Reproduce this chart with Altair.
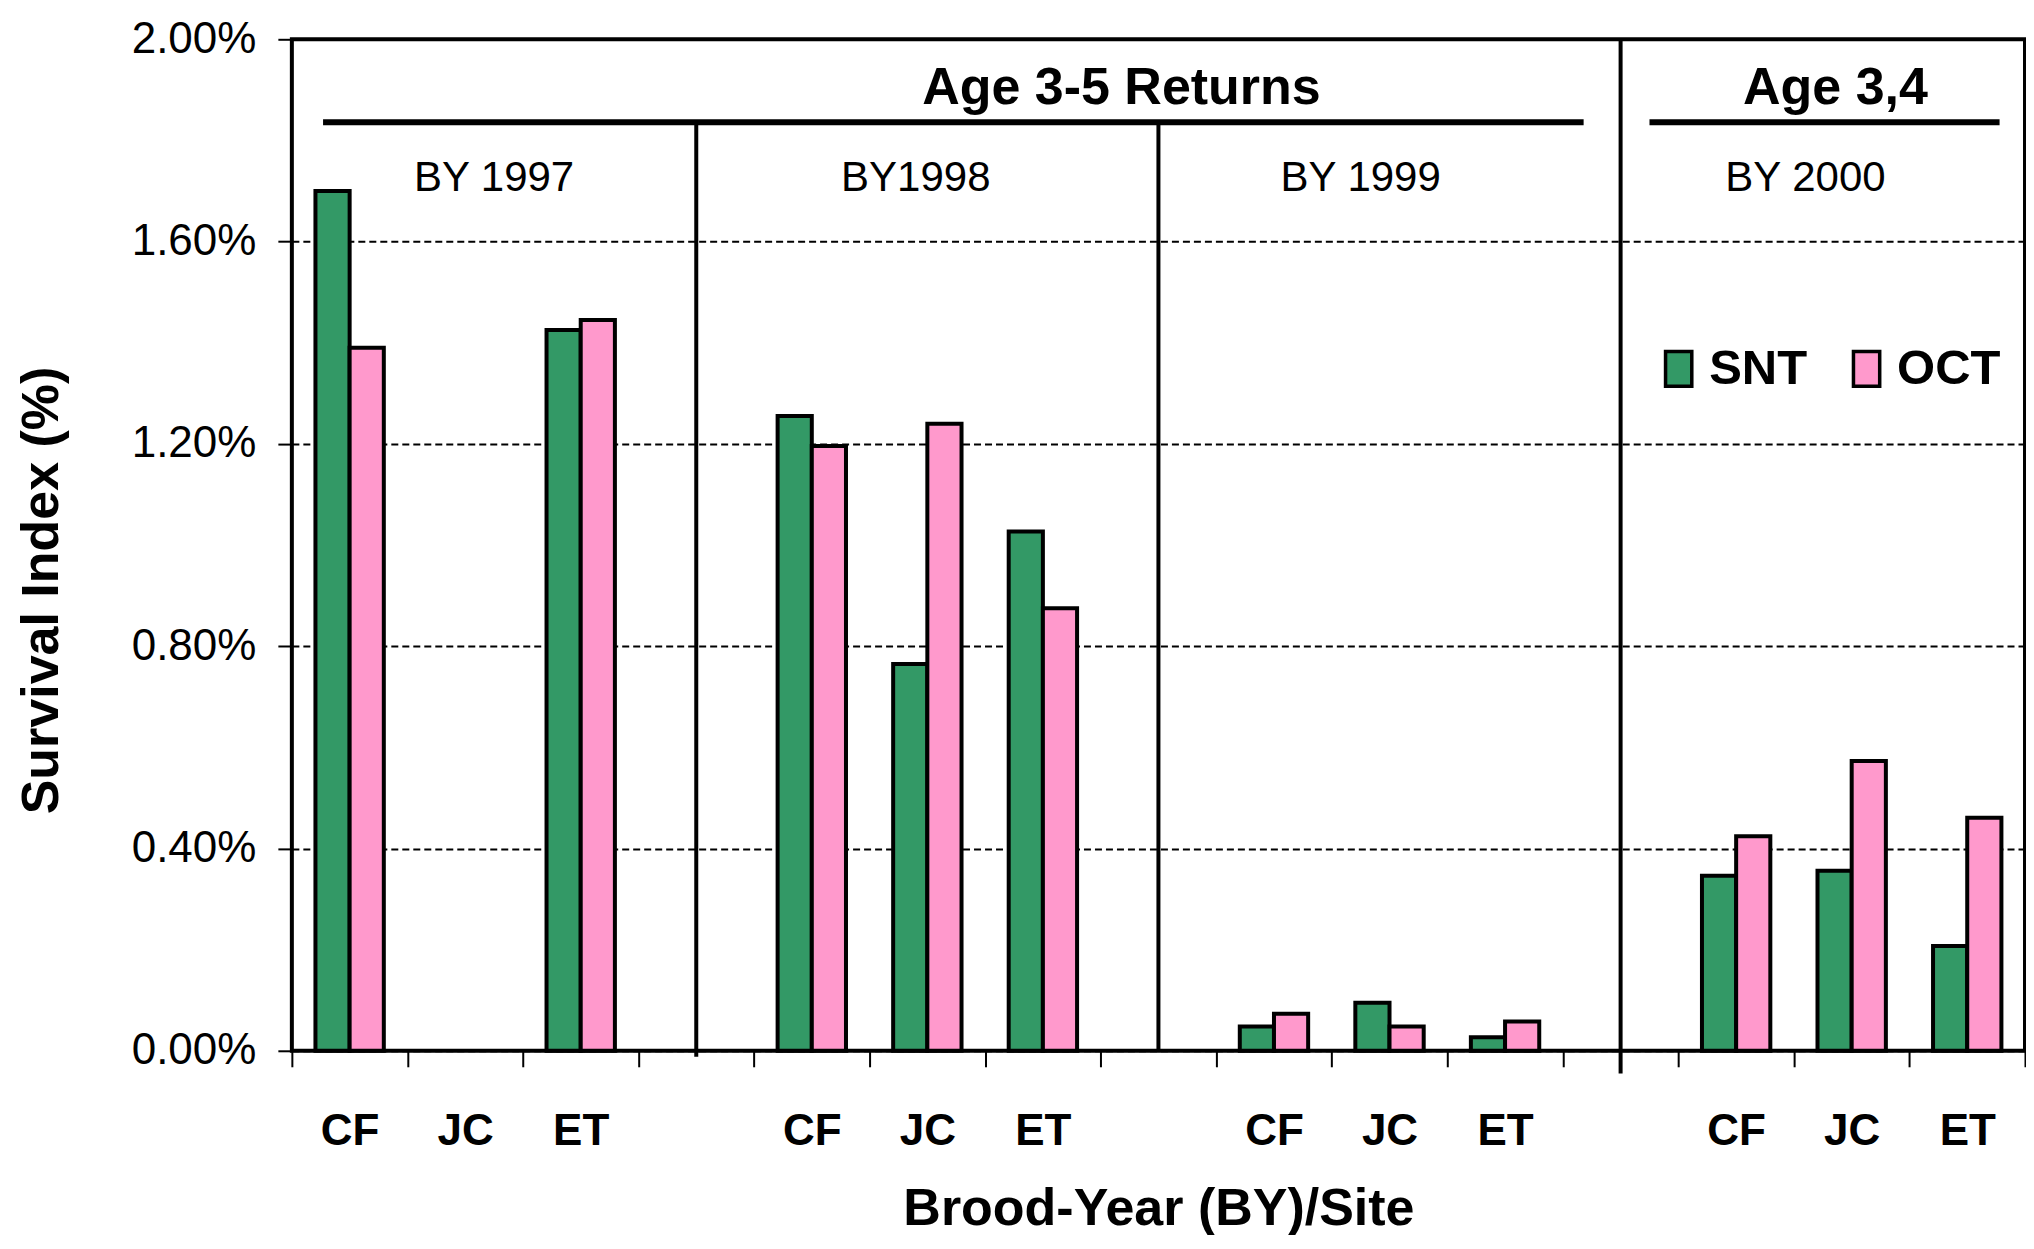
import altair as alt
import pandas as pd

# ---------------- data ----------------
years = ["1997", "1998", "1999", "2000"]
year_labels = ["BY 1997", "BY1998", "BY 1999", "BY 2000"]
sites = ["CF", "JC", "ET"]
series = ["SNT", "OCT"]
snt_values = [1.70, None, 1.425, 1.255, 0.765, 1.027, 0.048, 0.095, 0.027, 0.346, 0.356, 0.207]
oct_values = [1.39, None, 1.445, 1.196, 1.240, 0.875, 0.073, 0.048, 0.058, 0.424, 0.573, 0.461]
y_ticks = [0.0, 0.4, 0.8, 1.2, 1.6, 2.0]
colors = ["#339966", "#FF99CC"]

# annotation layout (in slot units along the x axis, y in % units)
headings = ["Age 3-5 Returns", "Age 3,4"]
heading_x = [7.18, 13.36]
heading_line_x1 = [0.27, 11.75]
heading_line_x2 = [11.18, 14.78]
group_label_x = [1.75, 5.40, 9.25, 13.10]
divider_x = [3.5, 7.5, 11.5]
divider_top = [1.836, 1.836, 2.0]
divider_bottom = [-0.012, 0.0, -0.045]

FONT = "Liberation Sans, Arial, sans-serif"
W, H = 1734, 1012

# ---------------- tables ----------------
slots = []
for gi, yr in enumerate(years):
    if gi > 0:
        slots.append(f"gap{gi}|")
    for s in sites:
        slots.append(f"{yr}|{s}")

rows = []
for gi, yr in enumerate(years):
    for si, site in enumerate(sites):
        k = gi * 3 + si
        for ser, vals in (("SNT", snt_values), ("OCT", oct_values)):
            if vals[k] is not None:
                rows.append({"slot": f"{yr}|{site}", "series": ser, "value": vals[k]})
bars_df = pd.DataFrame(rows)


def y_scale():
    return alt.Scale(domain=[0, 2], nice=False, zero=True)


def ann_scale():
    return alt.Scale(domain=[0, 15], nice=False, zero=False)


bars = alt.Chart(bars_df).mark_bar(stroke="black", strokeWidth=4).encode(
    x=alt.X(
        "slot:N",
        sort=slots,
        scale=alt.Scale(domain=slots, paddingInner=0, paddingOuter=0),
        axis=alt.Axis(
            title="Brood-Year (BY)/Site",
            labelExpr="split(datum.value, '|')[1]",
            labelAngle=0,
            labelFont=FONT,
            labelFontSize=44,
            labelFontWeight="bold",
            labelColor="black",
            labelBaseline="middle",
            labelPadding=65,
            ticks=True,
            tickBand="extent",
            tickSize=16,
            tickWidth=2,
            tickColor="black",
            domain=False,
            grid=False,
            titleFont=FONT,
            titleFontSize=52,
            titleFontWeight="bold",
            titleColor="black",
            titleBaseline="middle",
            titleY=158,
        ),
    ),
    xOffset=alt.XOffset(
        "series:N",
        sort=series,
        scale=alt.Scale(domain=series, paddingInner=0, paddingOuter=0.69),
    ),
    y=alt.Y(
        "value:Q",
        scale=y_scale(),
        axis=alt.Axis(
            values=y_ticks,
            labelExpr="format(datum.value, '.2f') + '%'",
            labelFont=FONT,
            labelFontSize=44,
            labelColor="black",
            labelPadding=22,
            tickSize=14,
            tickWidth=2,
            tickColor="black",
            domain=False,
            grid=True,
            gridColor="black",
            gridDash=[7, 4],
            gridWidth=2,
            title="Survival Index (%)",
            titleFont=FONT,
            titleFontSize=52,
            titleFontWeight="bold",
            titleColor="black",
            titleBaseline="middle",
            titleX=-250,
            titleY=551,
        ),
    ),
    fill=alt.Fill(
        "series:N",
        sort=series,
        scale=alt.Scale(domain=series, range=colors),
        legend=alt.Legend(
            title=None,
            orient="none",
            legendX=1363,
            legendY=305,
            direction="horizontal",
            padding=0,
            symbolType="M-0.75,-1H0.75V1H-0.75Z",
            symbolSize=1225,
            symbolStrokeColor="black",
            symbolStrokeWidth=3.5,
            labelFont=FONT,
            labelFontSize=49,
            labelFontWeight="bold",
            labelColor="black",
            labelOffset=6,
            columnPadding=35,
        ),
    ),
)

div_df = pd.DataFrame({"pos": divider_x, "top": divider_top, "bottom": divider_bottom})
dividers = alt.Chart(div_df).mark_rule(color="black", strokeWidth=4).encode(
    x=alt.X("pos:Q", scale=ann_scale(), axis=None),
    y=alt.Y("top:Q", scale=y_scale(), axis=None),
    y2="bottom:Q",
)

hl_df = pd.DataFrame({"x1": heading_line_x1, "x2": heading_line_x2, "y": [1.836, 1.836]})
heading_lines = alt.Chart(hl_df).mark_rule(color="black", strokeWidth=6).encode(
    x=alt.X("x1:Q", scale=ann_scale(), axis=None),
    x2="x2:Q",
    y=alt.Y("y:Q", scale=y_scale(), axis=None),
)

ht_df = pd.DataFrame({"text": headings, "pos": heading_x, "y": [1.903, 1.903]})
heading_text = alt.Chart(ht_df).mark_text(
    font=FONT, fontSize=52, fontWeight="bold", color="black", baseline="middle"
).encode(
    x=alt.X("pos:Q", scale=ann_scale(), axis=None),
    y=alt.Y("y:Q", scale=y_scale(), axis=None),
    text="text:N",
)

gl_df = pd.DataFrame({"text": year_labels, "pos": group_label_x, "y": [1.725] * 4})
group_text = alt.Chart(gl_df).mark_text(
    font=FONT, fontSize=42, color="black", baseline="middle"
).encode(
    x=alt.X("pos:Q", scale=ann_scale(), axis=None),
    y=alt.Y("y:Q", scale=y_scale(), axis=None),
    text="text:N",
)

chart = (
    alt.layer(bars, dividers, heading_lines, heading_text, group_text)
    .resolve_scale(x="independent", y="independent")
    .properties(
        width=W,
        height=H,
        background="white",
        padding={"left": 8, "top": 9, "right": 0, "bottom": 0},
    )
    .configure_view(stroke="black", strokeWidth=4)
)

chart.save("out.html", embed_options={"renderer": "svg", "actions": False})
